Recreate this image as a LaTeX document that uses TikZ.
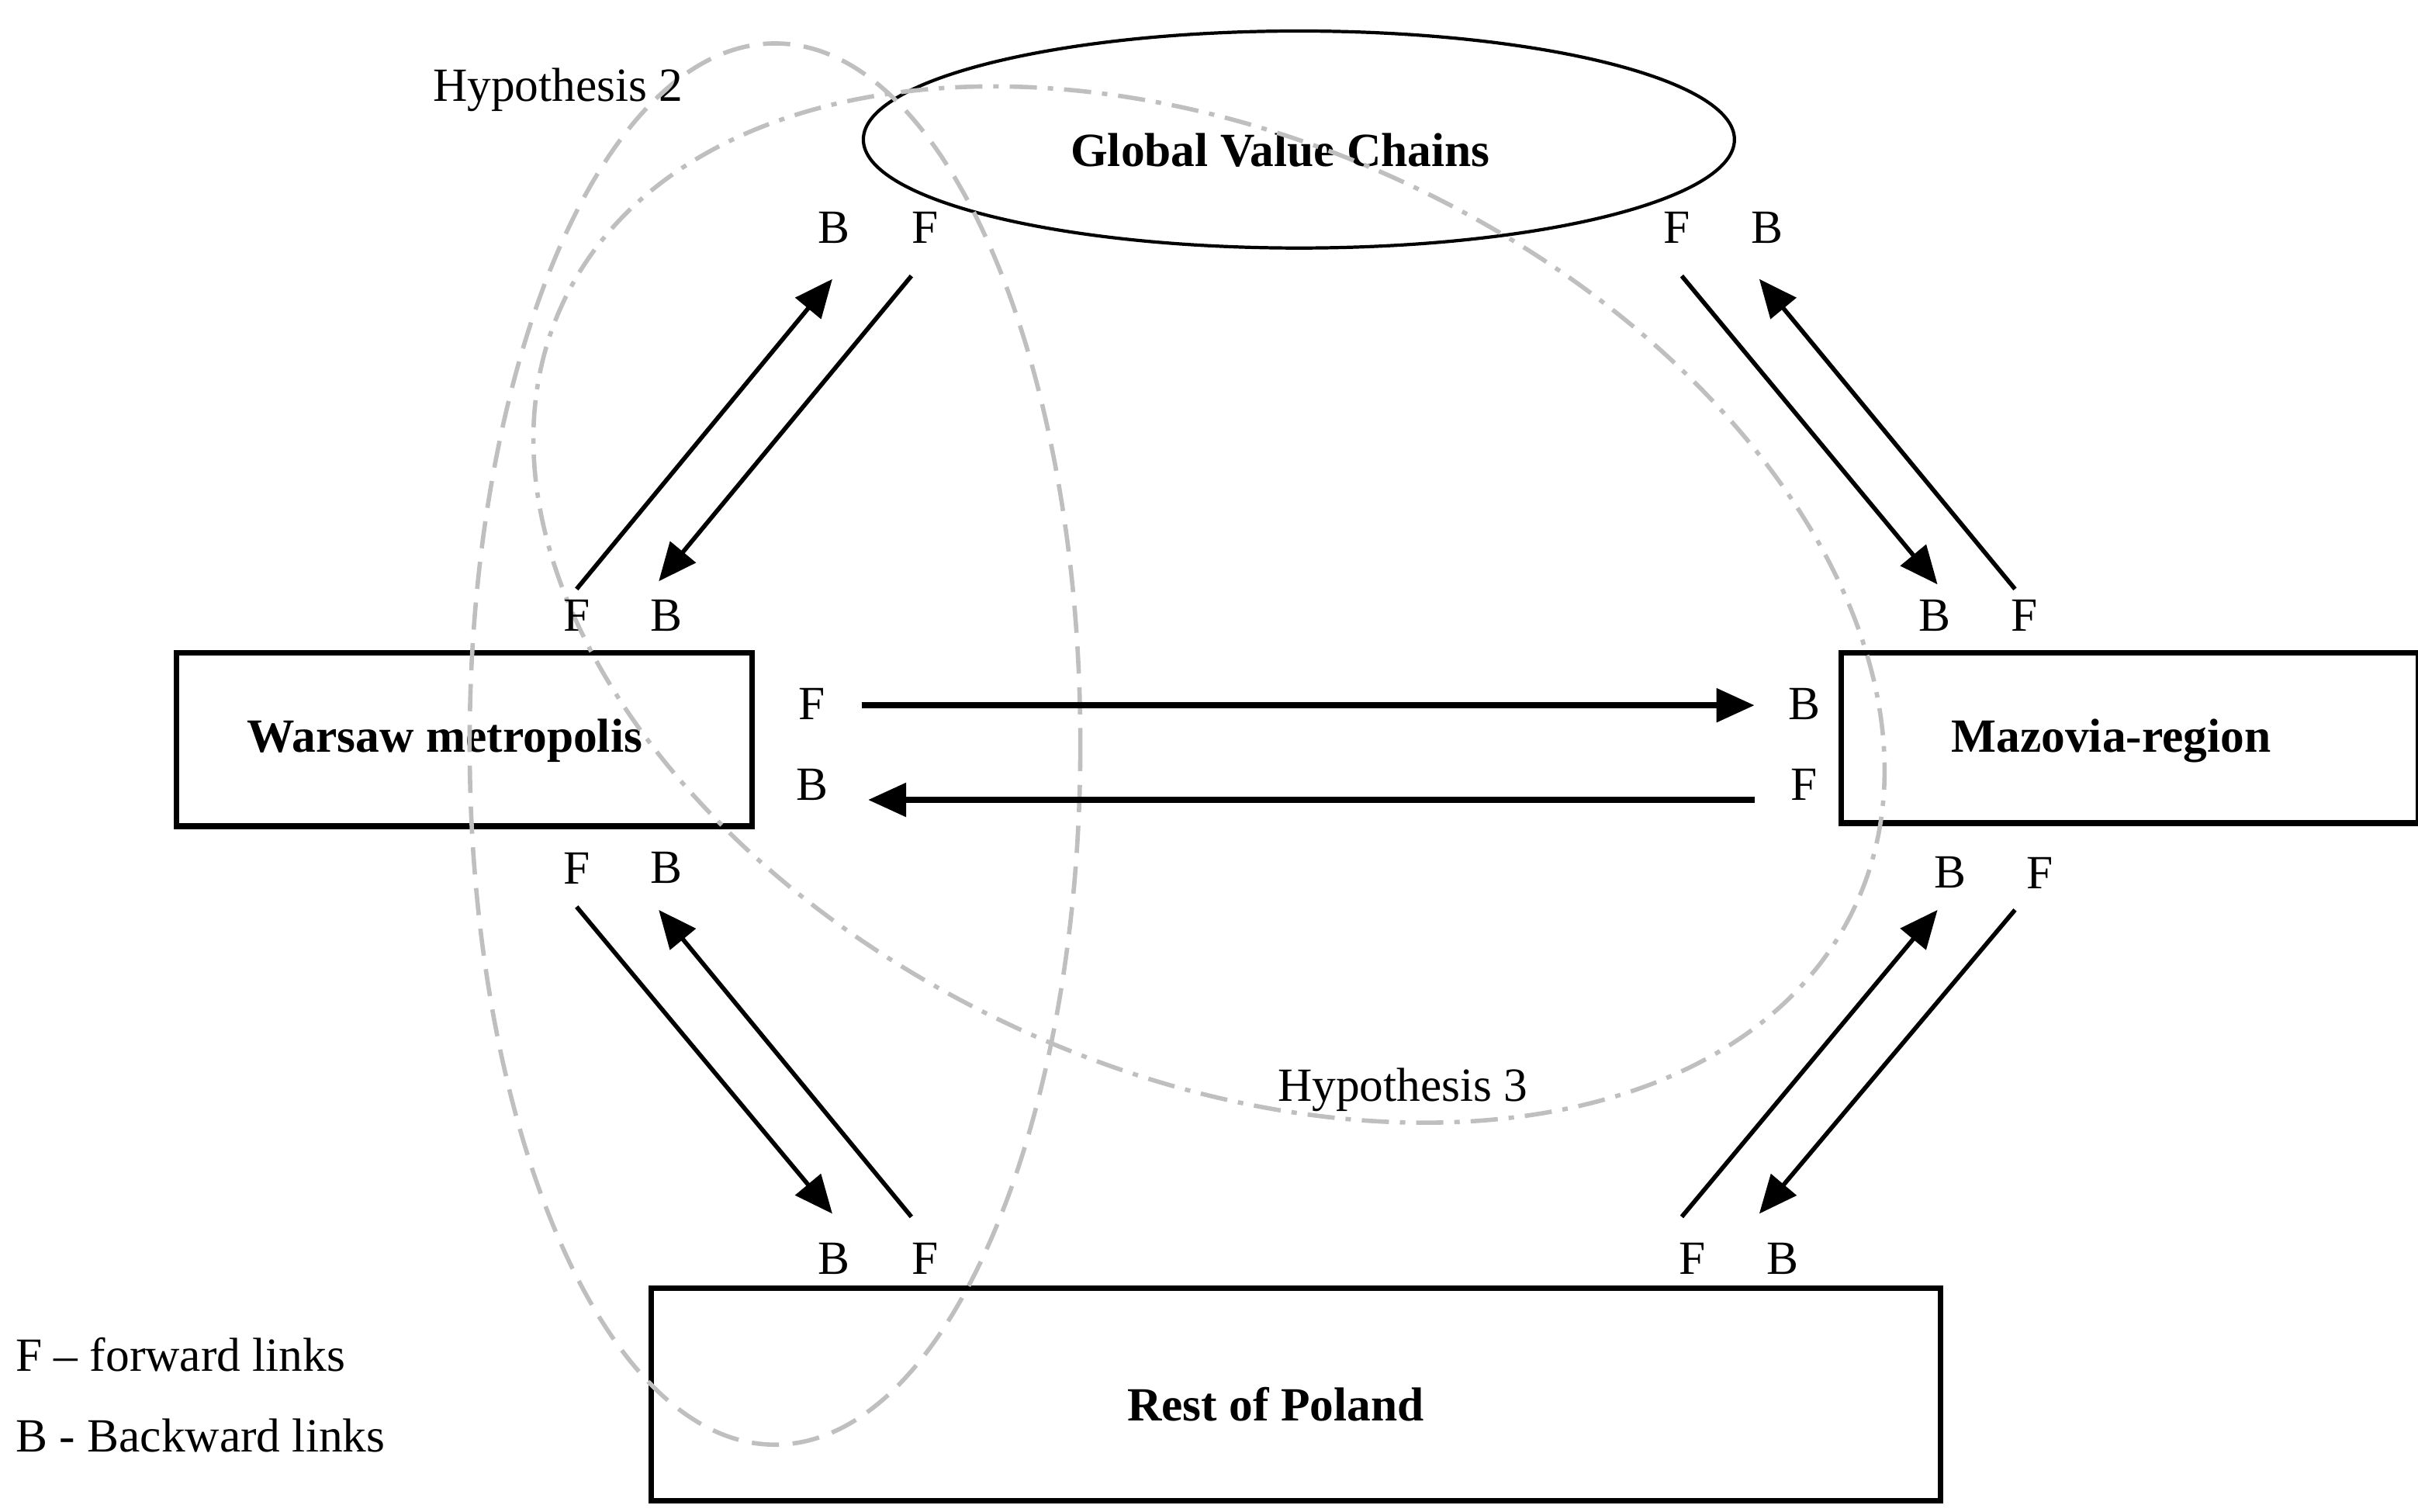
\documentclass[tikz,border=0pt]{standalone}
\usepackage{fontspec}
\setmainfont{Liberation Serif}
\usetikzlibrary{arrows.meta}
\definecolor{hypgray}{rgb}{0.75,0.75,0.75}

\begin{document}
\begin{tikzpicture}[x=0.02cm,y=-0.02cm]
    \tikzstyle{every node}=[font=\fontsize{17.5}{20}\selectfont]
    \tikzstyle{box}=[draw,line width=2pt,inner sep=0pt]
    \tikzstyle{link}=[line width=1.6pt,-{Triangle[length=14pt,width=12pt]}]
    \tikzstyle{hyp}=[hypgray,line width=1.6pt]
    \useasboundingbox (0,0) rectangle (1560,975);

    % regions
    \draw[line width=1.2pt] (838,90) ellipse (281 and 70);
    \node[font=\fontsize{17.5}{20}\selectfont\bfseries] (gvc) at (826,97) {Global Value Chains};
    \draw[box] (114,421) rectangle (485,533);
    \node[font=\fontsize{17.5}{20}\selectfont\bfseries] (war) at (287,478) {Warsaw metropolis};
    \draw[box] (1188,421) rectangle (1560,531);
    \node[font=\fontsize{17.5}{20}\selectfont\bfseries] (maz) at (1362,478) {Mazovia-region};
    \draw[box] (420,831) rectangle (1252,968);
    \node[font=\fontsize{17.5}{20}\selectfont\bfseries] (rop) at (823,906) {Rest of Poland};

    % hypotheses
    \draw[hyp,dash pattern=on 10pt off 5pt] (500,480) ellipse (197 and 452);
    \draw[hyp,dash pattern=on 10pt off 4pt on 2pt off 4pt,rotate around={-25:(780,390)}] (780,390) ellipse (460 and 300);
    \node (h2) at (360,58) {Hypothesis 2};
    \node (h3) at (905,703) {Hypothesis 3};

    % arrow end points
    \foreach \n/\x/\y in {a1/372/380,a2/537/180,a3/588/178,a4/425/375,
                          b1/1085/178,b2/1250/377,b3/1300/380,b4/1135/180,
                          c1/556/455,c2/1132/455,c3/1132/516,c4/560/516,
                          d1/372/585,d2/537/783,d3/588/785,d4/425/587,
                          e1/1085/785,e2/1250/587,e3/1300/587,e4/1135/783}{
        \coordinate (\n) at (\x,\y);
    }
    \draw[link] (a1) -- (a2);
    \draw[link] (a3) -- (a4);
    \draw[link] (b1) -- (b2);
    \draw[link] (b3) -- (b4);
    \draw[link,line width=2.4pt] (c1) -- (c2);
    \draw[link,line width=2.4pt] (c3) -- (c4);
    \draw[link] (d1) -- (d2);
    \draw[link] (d3) -- (d4);
    \draw[link] (e1) -- (e2);
    \draw[link] (e3) -- (e4);

    % link letters
    \foreach \n/\t/\x/\y in {l1/B/538/147,l2/F/597/147,l3/F/1082/147,l4/B/1140/147,
                             l5/F/372/397,l6/B/430/397,l7/B/1248/397,l8/F/1306/397,
                             l9/F/524/454,l10/B/524/506,l11/B/1164/454,l12/F/1164/506,
                             l13/F/372/560,l14/B/430/560,l15/B/1258/563,l16/F/1316/563,
                             l17/B/538/812,l18/F/597/812,l19/F/1092/812,l20/B/1150/812}{
        \node (\n) at (\x,\y) {\t};
    }

    % legend
    \node[anchor=west] (lf) at (4,874) {F -- forward links};
    \node[anchor=west] (lb) at (4,926) {B - Backward links};
\end{tikzpicture}
\end{document}
